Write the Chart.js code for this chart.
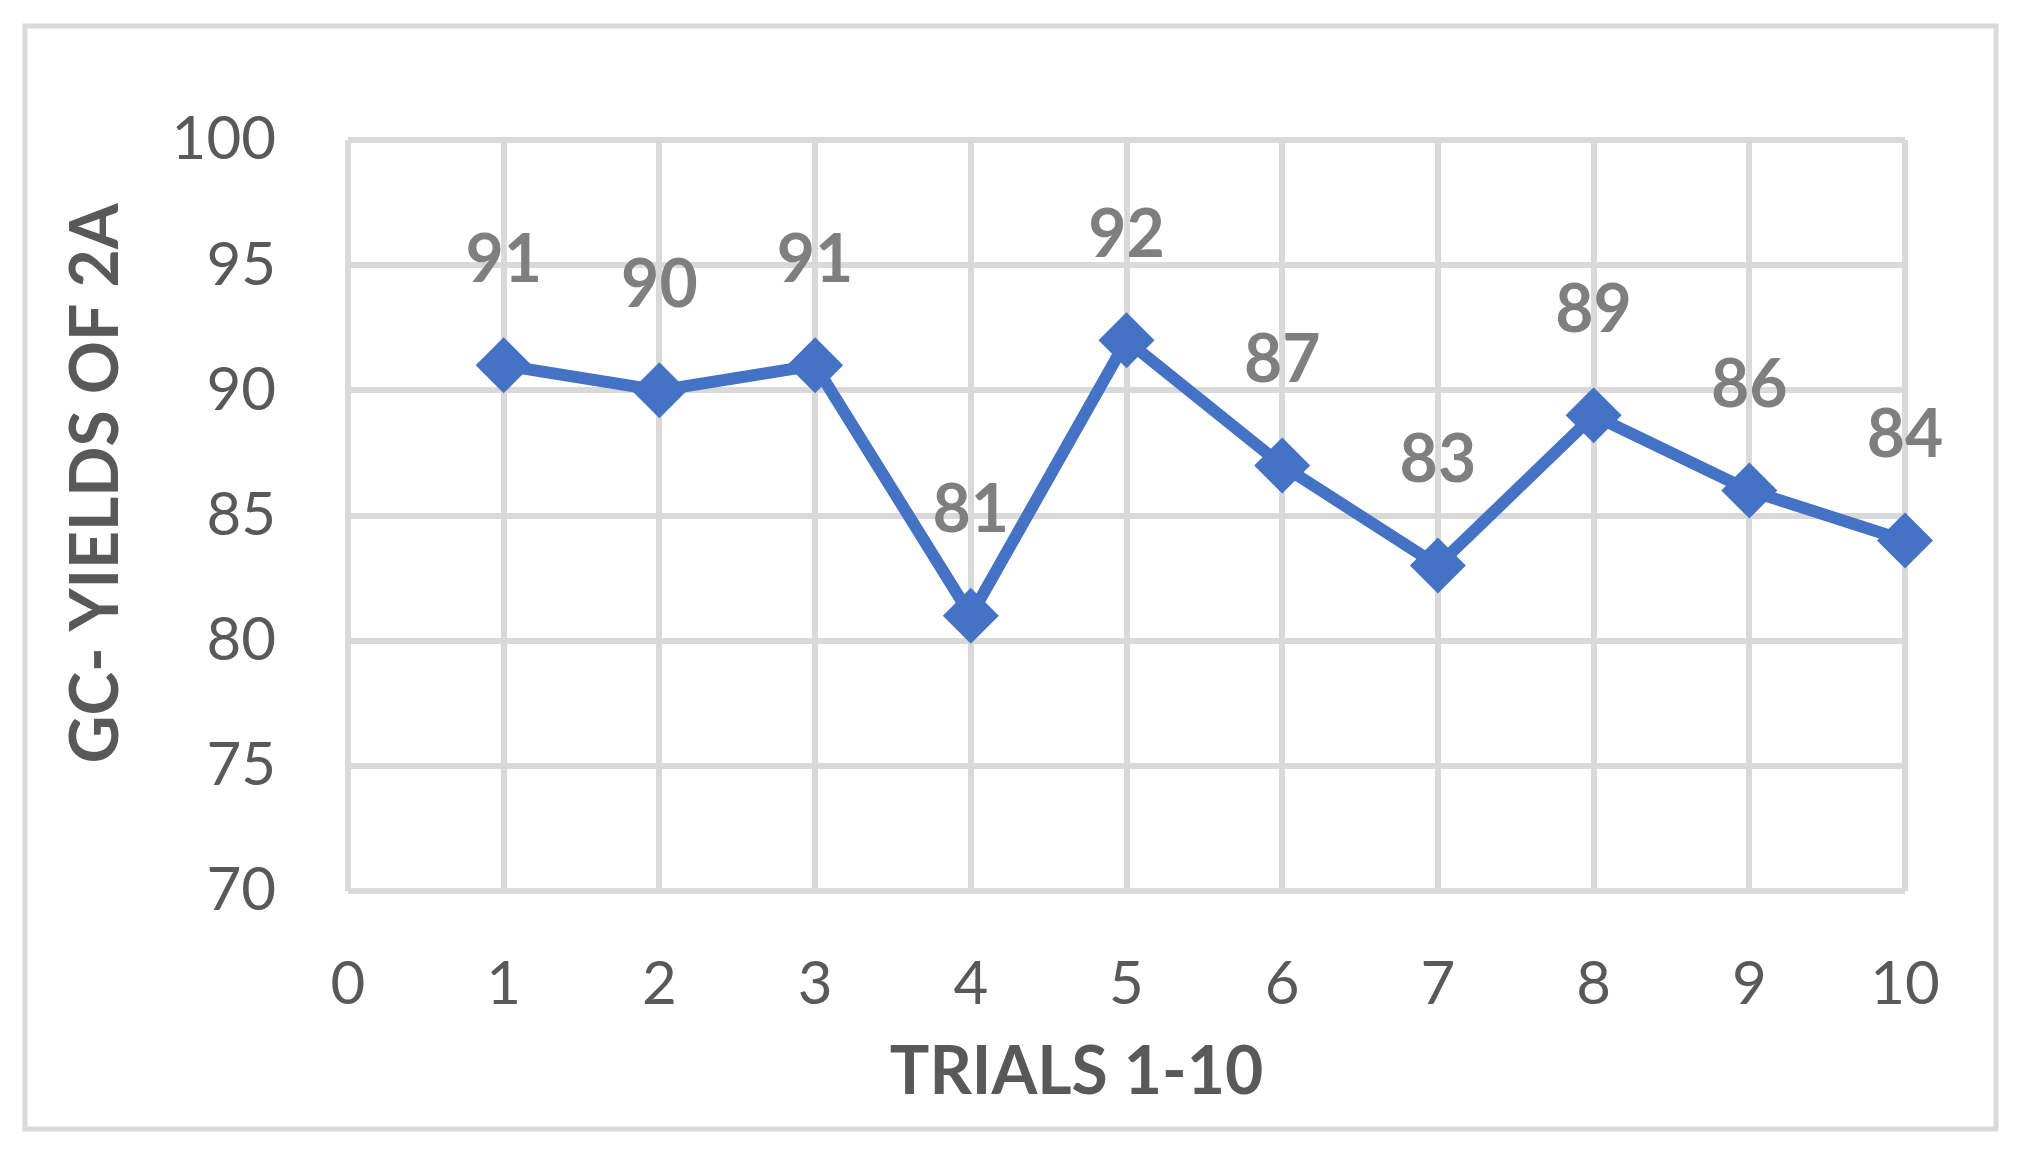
<!DOCTYPE html>
<html>
<head>
<meta charset="utf-8">
<title>GC yields of 2A</title>
<script src="https://cdn.jsdelivr.net/npm/chart.js@4.4.1/dist/chart.umd.min.js"></script>
<style>
  html, body { margin: 0; padding: 0; background: #fff; }
  canvas { display: block; }
</style>
</head>
<body>
<canvas id="yieldChart" width="2033" height="1166"></canvas>
<script>
// data
const trials = [1, 2, 3, 4, 5, 6, 7, 8, 9, 10];
const yields = [91, 90, 91, 81, 92, 87, 83, 89, 86, 84];
const xTicks = [0, 1, 2, 3, 4, 5, 6, 7, 8, 9, 10];
const yTicks = [70, 75, 80, 85, 90, 95, 100];
const xTitle = "TRIALS 1-10";
const yTitle = "GC- YIELDS OF 2A";

const GRID = "#d9d9d9";
const TEXT = "#595959";
const LABEL = "#7f7f7f";
const BLUE = "#4472C4";

// frame, value labels and axis titles
const extras = {
  id: "extras",
  beforeDraw(chart) {
    const ctx = chart.ctx;
    ctx.save();
    ctx.fillStyle = "#fff";
    ctx.fillRect(0, 0, chart.width, chart.height);
    ctx.strokeStyle = GRID;
    ctx.lineWidth = 5;
    ctx.strokeRect(25, 26, 1971, 1103);
    ctx.restore();
  },
  afterDatasetsDraw(chart) {
    const ctx = chart.ctx;
    const meta = chart.getDatasetMeta(0);
    ctx.save();
    ctx.font = "bold 66px Lato";
    ctx.fillStyle = LABEL;
    ctx.textAlign = "center";
    ctx.textBaseline = "middle";
    meta.data.forEach((pt, i) => {
      ctx.fillText(String(yields[i]), pt.x, pt.y - 105);
    });
    ctx.restore();
  },
  afterDraw(chart) {
    const ctx = chart.ctx;
    const area = chart.chartArea;
    ctx.save();
    ctx.font = "bold 66px Lato";
    ctx.fillStyle = TEXT;
    ctx.textAlign = "center";
    ctx.textBaseline = "middle";
    ctx.fillText(xTitle, (area.left + area.right) / 2 - 50, 1073);
    ctx.translate(97, (area.top + area.bottom) / 2 - 32);
    ctx.rotate(-Math.PI / 2);
    ctx.fillText(yTitle, 0, 0);
    ctx.restore();
  }
};

new Chart(document.getElementById("yieldChart").getContext("2d"), {
  type: "line",
  data: {
    datasets: [{
      label: yTitle,
      data: trials.map((t, i) => ({ x: t, y: yields[i] })),
      borderColor: BLUE,
      backgroundColor: BLUE,
      borderWidth: 12,
      tension: 0,
      pointStyle: "rectRot",
      pointRadius: 28,
      pointBorderWidth: 0,
      pointBackgroundColor: BLUE,
      clip: false
    }]
  },
  options: {
    responsive: false,
    animation: false,
    devicePixelRatio: 1,
    layout: { padding: { left: 0, top: 140, right: 128, bottom: 0 } },
    plugins: {
      legend: { display: false },
      tooltip: { enabled: false }
    },
    scales: {
      x: {
        type: "linear",
        min: 0,
        max: 10,
        afterBuildTicks: s => { s.ticks = xTicks.map(v => ({ value: v })); },
        afterFit: s => { s.height = 275; },
        grid: { color: GRID, lineWidth: 6, drawTicks: false },
        border: { display: false },
        ticks: {
          color: TEXT,
          padding: 58,
          font: { family: "Lato", size: 60 }
        }
      },
      y: {
        min: 70,
        max: 100,
        afterBuildTicks: s => { s.ticks = yTicks.map(v => ({ value: v })); },
        afterFit: s => { s.width = 348; },
        grid: { color: GRID, lineWidth: 6, drawTicks: false },
        border: { display: false },
        ticks: {
          color: TEXT,
          padding: 72,
          font: { family: "Lato", size: 60 }
        }
      }
    }
  },
  plugins: [extras]
});
</script>
</body>
</html>
